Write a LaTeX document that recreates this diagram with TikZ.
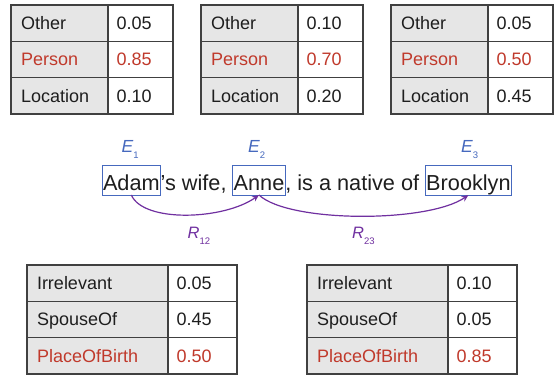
\documentclass[tikz,border=0pt]{standalone}
\usepackage{fontspec}
\setmainfont{Liberation Sans}
\usetikzlibrary{arrows.meta}
\definecolor{bordc}{RGB}{64,64,64}
\definecolor{cellg}{RGB}{230,230,230}
\definecolor{txtc}{RGB}{30,30,30}
\definecolor{redc}{RGB}{192,57,43}
\definecolor{entc}{RGB}{70,105,190}
\definecolor{relc}{RGB}{112,48,160}
\newcommand\lowsub[1]{\raisebox{-5.8pt}{\fontsize{9.5}{10}\selectfont\upshape #1}}
\tikzset{
  cellbase/.style={draw=bordc, line width=1.2pt, anchor=north west, outer sep=0pt,
    inner ysep=0pt, minimum height=36.3pt, text height=13pt, text depth=0pt,
    align=left, font=\fontsize{18}{20}\selectfont, text=txtc},
  lcell/.style={cellbase, fill=cellg, inner xsep=10pt, text width=#1},
  rcell/.style={cellbase, fill=white, inner xsep=8.5pt, text width=#1},
  hot/.style={text=redc},
  word/.style={anchor=base west, inner sep=0pt, outer sep=0pt, text=txtc,
    font=\fontsize{21.7}{26}\selectfont},
  ent/.style={word, draw=entc, line width=1pt, inner xsep=1pt, inner ysep=0pt,
    text height=25pt, text depth=5pt},
  elab/.style={anchor=base west, inner sep=0pt, text=entc, font=\fontsize{17.5}{20}\selectfont\itshape},
  rlab/.style={anchor=base west, inner sep=0pt, text=relc, font=\fontsize{16.5}{20}\selectfont\itshape},
  rel/.style={draw=relc, line width=1.2pt, -{Stealth[length=7pt,width=6pt]}},
}
\newcommand\toptable[5]{%
  \node[lcell=77pt] (#1-l1) at (#2,5) {Other};
  \node[rcell=48pt] (#1-r1) at (#1-l1.north east) {#3};
  \node[lcell=77pt,hot] (#1-l2) at (#1-l1.south west) {Person};
  \node[rcell=48pt,hot] (#1-r2) at (#1-l2.north east) {#4};
  \node[lcell=77pt] (#1-l3) at (#1-l2.south west) {Location};
  \node[rcell=48pt] (#1-r3) at (#1-l3.north east) {#5};
}
\newcommand\bottable[5]{%
  \node[lcell=121pt] (#1-l1) at (#2,265) {Irrelevant};
  \node[rcell=52pt] (#1-r1) at (#1-l1.north east) {#3};
  \node[lcell=121pt] (#1-l2) at (#1-l1.south west) {SpouseOf};
  \node[rcell=52pt] (#1-r2) at (#1-l2.north east) {#4};
  \node[lcell=121pt,hot] (#1-l3) at (#1-l2.south west) {PlaceOfBirth};
  \node[rcell=52pt,hot] (#1-r3) at (#1-l3.north east) {#5};
}
\begin{document}
\begin{tikzpicture}[x=1pt,y=-1pt]
\useasboundingbox[fill=white] (0,0) rectangle (554,378);
\toptable{ta}{11}{0.05}{0.85}{0.10}
\toptable{tb}{201}{0.10}{0.70}{0.20}
\toptable{tc}{391}{0.05}{0.50}{0.45}
\bottable{ba}{27}{0.05}{0.45}{0.50}
\bottable{bb}{307}{0.10}{0.05}{0.85}
% sentence
\node[ent] (adam) at (102,190) {Adam};
\node[word] (t1) at (adam.base east) {’s wife,\ \null};
\node[ent] (anne) at (t1.base east) {Anne};
\node[word] (t2) at (anne.base east) {,\ is a native of\ \null};
\node[ent] (brook) at (t2.base east) {Brooklyn};
% entity labels
\node[elab] (e1) at (121.5,152.7) {E\lowsub{1}};
\node[elab] (e2) at (248,152.7) {E\lowsub{2}};
\node[elab] (e3) at (461,152.7) {E\lowsub{3}};
% relations
\draw[rel] (adam.south) .. controls +(12,28) and +(-35,25) .. (anne.south);
\draw[rel] (anne.south) .. controls +(30,28) and +(-40,28) .. (brook.south);
\node[rlab] (r12) at (187.5,238.5) {R\lowsub{12}};
\node[rlab] (r23) at (352,238.5) {R\lowsub{23}};
\end{tikzpicture}
\end{document}
